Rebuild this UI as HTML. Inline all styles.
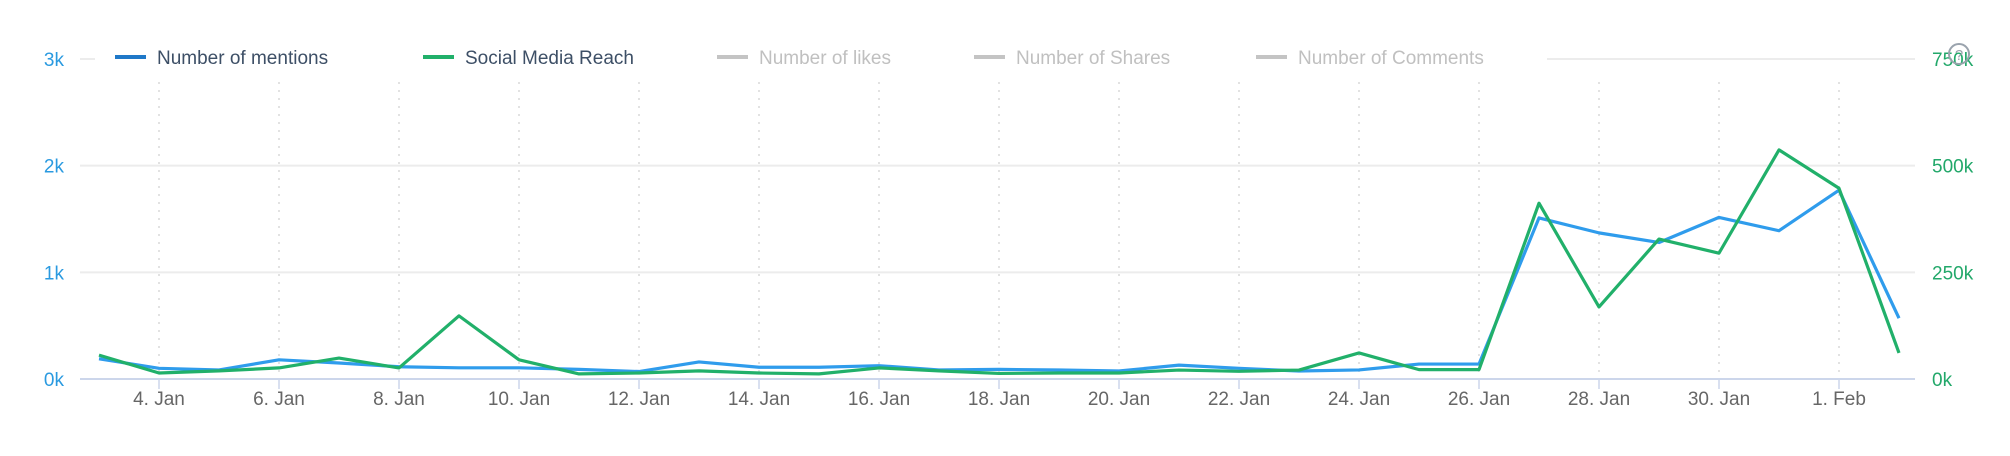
<!DOCTYPE html>
<html><head><meta charset="utf-8"><style>
html,body{margin:0;padding:0;background:#fff;}
svg{display:block;font-family:"Liberation Sans",sans-serif;}
</style></head><body>
<svg id="chart" width="2010" height="456" viewBox="0 0 2010 456" xmlns="http://www.w3.org/2000/svg">
<g id="grid"></g>
<g id="axes"></g>
<g id="series"></g>
<g id="legend"></g>
<g>
<circle cx="1959" cy="54" r="10" fill="none" stroke="#9aa3ad" stroke-width="2"/>
<text x="1959" y="60" font-size="15" fill="#9aa3ad" text-anchor="middle">?</text>
</g>
</svg>
<script>
const days = ["3","4","5","6","7","8","9","10","11","12","13","14","15","16","17","18","19","20","21","22","23","24","25","26","27","28","29","30","31","1","2"];
const tickLabels = ["4. Jan","6. Jan","8. Jan","10. Jan","12. Jan","14. Jan","16. Jan","18. Jan","20. Jan","22. Jan","24. Jan","26. Jan","28. Jan","30. Jan","1. Feb"];
const tickIndex = [1,3,5,7,9,11,13,15,17,19,21,23,25,27,29];
const mentions = [190,100,85,180,150,115,105,105,90,70,160,110,110,125,85,90,85,75,130,100,75,85,140,140,1510,1370,1280,1515,1390,1770,570];
const reach = [56,14,19,26,49,26,148,45,12,14,19,14,12,26,19,13,14,14,21,18,21,61,22,22,412,169,328,295,537,447,61];
const leftTicks = [0,1000,2000,3000];
const leftTickLabels = ["0k","1k","2k","3k"];
const rightTicks = [0,250,500,750];
const rightTickLabels = ["0k","250k","500k","750k"];
const legendItems = ["Number of mentions","Social Media Reach","Number of likes","Number of Shares","Number of Comments"];

const NS="http://www.w3.org/2000/svg";
const L=80,R=1915,T=59,B=379,X0=99,DX=60;
const x=i=>X0+i*DX;
const yL=v=>B-(v/3000)*(B-T);
const yR=v=>B-(v/750)*(B-T);
function mk(tag,attrs,parent,txt){const e=document.createElementNS(NS,tag);for(const k in attrs)e.setAttribute(k,attrs[k]);if(txt!==undefined)e.textContent=txt;parent.appendChild(e);return e;}
const grid=document.getElementById('grid'),axes=document.getElementById('axes'),series=document.getElementById('series'),legend=document.getElementById('legend');

leftTicks.forEach((v,i)=>{
  if(i>0){
    const g=mk('line',{x1:(i===3?1547:L),x2:R,y1:yL(v),y2:yL(v),stroke:'#ececec','stroke-width':2},grid);
    
    
  }
  const t=mk('text',{x:64,y:yL(v)+7,'font-size':19,fill:'#2a9ae0','text-anchor':'end'},axes,leftTickLabels[i]);
  
  
});
mk('line',{x1:L,x2:95,y1:T,y2:T,stroke:'#ececec','stroke-width':2},grid);
rightTicks.forEach((v,i)=>{
  const t=mk('text',{x:1932,y:yR(v)+7,'font-size':19,fill:'#22a86a','text-anchor':'start'},axes,rightTickLabels[i]);
  
  
});
tickIndex.forEach((idx,i)=>{
  const xx=x(idx);
  const d=mk('line',{x1:xx,x2:xx,y1:82,y2:B,stroke:'#d8d8d8','stroke-width':1.5,'stroke-dasharray':'2,6'},grid);
  
  
  const tk=mk('line',{x1:xx,x2:xx,y1:B,y2:B+10,stroke:'#ccd6eb','stroke-width':1.5},axes);
  
  
  const t=mk('text',{x:xx,y:405,'font-size':19,fill:'#666','text-anchor':'middle'},axes,tickLabels[i]);
  
  
});
const ax=mk('line',{x1:L,x2:R,y1:B,y2:B,stroke:'#ccd6eb','stroke-width':2},axes);



const p1=mk('polyline',{points:mentions.map((v,i)=>x(i)+','+yL(v)).join(' '),fill:'none',stroke:'#2f9cec','stroke-width':3.2,'stroke-linejoin':'round'},series);


const p2=mk('polyline',{points:reach.map((v,i)=>x(i)+','+yR(v)).join(' '),fill:'none',stroke:'#21b06a','stroke-width':3.2,'stroke-linejoin':'round'},series);



const lx=[115,423,717,974,1256];
const lc=['#1f78c8','#21b06a','#c4c4c4','#c4c4c4','#c4c4c4'];
const tc=['#3d4f66','#3d4f66','#c0c0c0','#c0c0c0','#c0c0c0'];
legendItems.forEach((n,i)=>{
  const g=mk('g',{},legend);
  
  
  mk('rect',{x:lx[i],y:55,width:31,height:4,fill:lc[i]},g);
  mk('text',{x:lx[i]+42,y:64,'font-size':19,fill:tc[i]},g,n);
});
</script>
</body></html>
